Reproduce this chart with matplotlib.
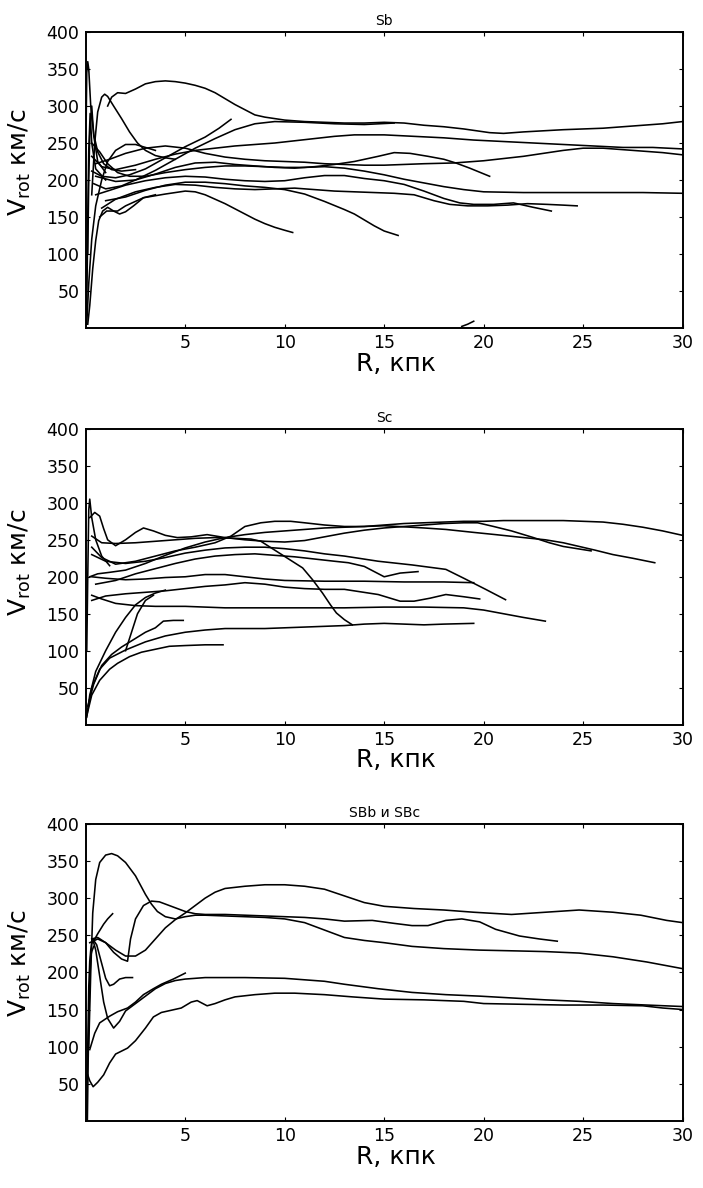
import numpy as np
import matplotlib
matplotlib.use("Agg")
import matplotlib.pyplot as plt

plt.rcParams['font.family'] = ['DejaVu Sans']
plt.rcParams['mathtext.fontset'] = 'dejavusans'

# ---- Sb rotation curves: (R kpc, V km/s) ----
sb_1 = [(1.1,300),(1.3,312),(1.6,318),(2.0,317),(2.5,323),(3.0,330),(3.5,333),(4.0,334),(4.5,333),(5.0,331),(5.5,328),(6.0,324),(6.5,318),(7.0,310),(7.5,302),(8.0,295),(8.5,288),(9.0,285),(10,281),(11,279),(12,278),(13,277),(14,277),(15,278),(16,277),(17,274),(18,272),(19,269),(20.3,264),(21,263),(22,265),(24,268),(26,270),(27,272),(28,274),(29,276),(30,279)]
sb_2 = [(0.3,212),(0.8,205),(1.5,203),(2.2,207),(3.0,215),(4.0,230),(5.0,245),(6.0,258),(6.7,270),(7.3,282)]
sb_3 = [(0.4,195),(1.0,188),(1.8,192),(2.5,200),(3.5,213),(4.5,228),(5.5,243),(6.5,256),(7.5,268),(8.5,276),(9.5,279),(11,278),(12.5,276),(14,275),(15.5,277)]
sb_4 = [(0.3,232),(0.8,218),(1.5,214),(2.5,220),(3.5,228),(4.5,235),(5.5,240),(6.5,243),(7.5,246),(8.5,248),(9.5,250),(10.5,253),(11.5,256),(12.5,259),(13.5,261),(15,261),(16.5,259),(18,257),(19.5,254),(21,252),(22.5,250),(24,248),(25.5,246),(27,244),(28.5,244),(30,242)]
sb_5 = [(0.5,222),(1.2,228),(2.0,236),(3.0,243),(4.0,246),(5.0,243),(6.0,236),(7.0,231),(8.0,228),(9.0,226),(10,225),(11,224),(12,222),(13,221),(14,220),(15,220),(16,221),(17,222),(18.5,223),(20,226),(21,229),(22,232),(23,236),(24,240),(25,243),(26,243),(27,241),(28,239),(29,237),(30,234)]
sb_6 = [(0.5,205),(1.5,198),(2.5,200),(3.5,208),(4.5,217),(5.5,223),(6.5,224),(7.5,221),(8.5,219),(9.5,217),(10.5,216),(11.5,218),(12.5,221),(13.5,225),(14.7,232),(15.5,237),(16.3,236),(17.2,232),(18,228),(18.6,223),(19.3,216),(20.3,205)]
sb_7 = [(0.3,250),(0.7,238),(1.1,222),(1.6,210),(2.2,205),(3.0,205),(4.0,210),(5.0,214),(6.0,217),(7.0,219),(8.0,219),(9.0,218),(10,217),(11,217),(12,218),(13,216),(14,212),(15,207),(16,201),(17,196),(18,191),(19,187),(20,184),(22,183),(24,183),(26,183),(28,183),(30,182)]
sb_8 = [(0.5,180),(1.2,186),(2.0,193),(3.0,199),(4.0,203),(5.0,205),(6.0,204),(7.0,201),(8.0,199),(9.0,198),(10,199),(11,203),(12,206),(13,206),(14,202),(15,199),(16,194),(17,185),(18,175),(18.8,169),(19.5,167),(20.5,167),(21.5,169),(22.5,163),(23.4,158)]
sb_9 = [(0.8,162),(1.5,174),(2.5,184),(3.5,190),(4.5,194),(5.5,193),(6.5,190),(7.5,188),(8.5,187),(9.5,188),(10.5,189),(11.5,187),(12.5,185),(13.5,184),(14.5,183),(15.5,182),(16.5,180),(17.5,172),(18.3,167),(19.2,165),(20.2,165),(21.2,166),(22.2,168),(23.2,167),(24.0,166),(24.7,165)]
sb_10 = [(1.0,172),(2.0,177),(3.0,186),(4.0,193),(5.0,197),(6.0,197),(7.0,195),(8.0,192),(9.0,190),(10,187),(11,181),(12,171),(13,160),(13.5,154),(14,146),(14.5,138),(15,131),(15.7,125)]
sb_11 = [(0.7,150),(1.05,158),(1.6,158),(2.0,165),(2.9,176),(4.0,181),(5.0,185),(5.5,184),(6.0,180),(6.5,174),(7.0,168),(7.5,161),(8.0,154),(8.5,147),(9.0,141),(9.5,136),(10,132),(10.4,129)]
sb_12 = [(0.05,5),(0.15,60),(0.3,120),(0.5,165),(0.8,200),(1.1,225),(1.5,240),(2.0,248),(2.5,248),(3.0,244),(3.5,240)]
sb_13 = [(0.02,280),(0.05,345),(0.1,360),(0.15,350),(0.25,300),(0.4,262),(0.6,238),(0.9,222),(1.3,214),(1.8,212),(2.5,214)]
sb_14 = [(0.3,180),(0.45,250),(0.6,292),(0.8,312),(0.95,316),(1.1,313),(1.4,300),(1.8,283),(2.2,265),(2.6,250),(3.0,240),(3.5,233),(4.0,230),(4.5,228)]
sb_15 = [(0.1,5),(0.2,30),(0.35,80),(0.5,118),(0.65,145),(0.85,158),(1.1,163),(1.4,158),(1.7,154),(2.0,157),(2.4,165),(2.9,176),(3.5,180)]
sb_16 = [(0.1,100),(0.15,200),(0.2,260),(0.3,300),(0.4,260),(0.6,225),(1.0,210)]
sb_17 = [(0.05,20),(0.1,150),(0.15,240),(0.22,290),(0.3,250),(0.5,215),(1.0,200)]
sb_18 = [(18.9,2),(19.2,5),(19.5,9)]

# ---- Sc rotation curves ----
sc_1 = [(0.2,200),(0.6,204),(1.2,206),(2.0,209),(3.0,218),(4.0,229),(5.0,239),(6.0,247),(7.0,253),(8.0,257),(9.0,260),(10,262),(11,264),(12,266),(13,267),(14,268),(15,270),(16,272),(17,273),(18,274),(19,275),(20,275),(21,276),(22,276),(23,276),(24,276),(25,275),(26,274),(27,271),(28,267),(29,262),(30,256)]
sc_2 = [(0.3,240),(0.8,226),(1.5,217),(2.5,221),(3.5,228),(4.5,235),(5.5,240),(6.5,246),(7.3,255),(8.0,268),(8.8,273),(9.5,275),(10.3,275),(11,273),(12,270),(13,268),(14,268),(15,269),(15.7,268),(17,266),(18.1,264),(19.5,260),(20.6,257),(22,253),(23.1,250),(24,246),(24.8,241),(25.6,236),(26.5,230),(27.5,225),(28.6,219)]
sc_3 = [(0.2,280),(0.45,287),(0.7,282),(0.9,265),(1.1,250),(1.5,242),(2.0,250),(2.5,260),(2.9,266),(3.4,262),(4.0,256),(4.6,253),(5.3,254),(6.1,257),(7.0,253),(8.0,250),(9.0,248),(10,247),(11,249),(12,254),(13,259),(14,263),(15,266),(16,268),(17,270),(18,272),(19,273),(19.7,273),(20.5,268),(21.4,262),(22.5,253),(23.3,246),(24,241),(24.7,238),(25.4,235)]
sc_4 = [(0.3,230),(1.0,221),(2.0,218),(3.0,221),(4.0,226),(5.0,232),(6.0,236),(7.0,239),(8.0,240),(9.0,240),(10,238),(11,235),(12,231),(13,228),(14.7,221),(16.4,216),(18.1,210),(19.0,198),(20.1,183),(21.1,169)]
sc_5 = [(0.5,190),(1.5,195),(2.5,204),(3.5,211),(4.5,218),(5.5,224),(6.5,228),(7.5,230),(8.5,231),(9.5,229),(10.5,227),(11.5,224),(12.5,221),(13.2,219),(14,214),(15,200),(15.8,205),(16.7,207)]
sc_6 = [(0.3,200),(1.0,198),(2.0,196),(3.0,197),(4.0,199),(5.0,200),(6.0,203),(7.0,203),(8.0,200),(9.0,197),(10,195),(12,194),(14,194),(16,193),(18,193),(19.5,192)]
sc_7 = [(0.3,168),(1.0,174),(2.0,177),(3.0,179),(4.0,181),(5.0,184),(6.0,187),(7.0,189),(8.0,192),(9.0,190),(10,186),(11,184),(12,183),(13,183),(14.7,176),(15.8,167),(16.5,167),(17.3,171),(18.1,176),(19,173),(19.8,170)]
sc_8 = [(0.3,175),(0.8,170),(1.5,164),(2.5,161),(3.5,160),(5.0,160),(7.0,158),(9.0,158),(11,158),(13,158),(15,159),(17,159),(19,158),(20,155),(21,150),(22,145),(23.1,140)]
sc_9 = [(0.1,20),(0.3,50),(0.7,75),(1.2,90),(2.0,101),(3.0,112),(4.0,120),(5.0,125),(6.0,128),(7.0,130),(8.0,130),(9.0,130),(10,131),(11,132),(12,133),(13,134),(14,136),(15,137),(16,136),(17,135),(18,136),(19.5,137)]
sc_10 = [(0.05,12),(0.3,40),(0.7,60),(1.2,75),(1.6,83),(2.2,92),(2.8,98),(3.5,102),(4.2,106),(5.0,107),(6.0,108),(6.9,108)]
sc_11 = [(0.1,25),(0.4,55),(0.8,80),(1.3,95),(1.8,105),(2.4,115),(3.0,125),(3.5,131),(3.9,140),(4.4,141),(4.9,141)]
sc_12 = [(0.3,255),(0.8,246),(1.5,245),(2.5,246),(3.5,248),(4.5,250),(5.5,252),(6.5,253),(7.5,252),(8.3,251),(8.8,248),(9.5,236),(10.2,224),(10.9,212),(11.4,196),(11.9,178),(12.3,162),(12.6,151),(13.0,142),(13.4,135)]
sc_13 = [(0.05,10),(0.2,40),(0.5,72),(1.0,100),(1.5,125),(2.0,145),(2.5,162),(3.0,172),(3.5,178),(4.0,182)]
sc_14 = [(0.05,100),(0.1,200),(0.15,290),(0.2,305),(0.3,280),(0.5,250),(0.8,228),(1.2,215)]
sc_15 = [(2.0,100),(2.3,125),(2.6,150),(3.0,168),(3.4,175)]

# ---- SBb and SBc rotation curves ----
sbb_1 = [(0.2,240),(0.6,245),(1.0,240),(1.5,230),(2.0,222),(2.5,222),(3.0,230),(3.5,245),(4.0,260),(4.5,271),(5.0,280),(5.5,290),(6.0,300),(6.5,308),(7.0,313),(8.0,316),(9.0,318),(10,318),(11,316),(12,312),(13,303),(14,294),(15,289),(16.5,286),(18,284),(19.5,281),(21.4,278),(23.1,281),(24.8,284),(26.5,281),(27.9,277),(29.2,270),(30,267)]
sbb_2 = [(0.15,100),(0.25,200),(0.35,280),(0.5,325),(0.7,348),(1.0,358),(1.3,360),(1.6,357),(2.0,348),(2.5,330),(3.0,305),(3.3,292),(3.6,282),(4.0,275),(4.5,272),(5.0,275),(5.5,277),(6.0,277),(7.0,276),(8.0,275),(9.0,274),(10,272),(11,267),(12,257),(13,247),(14,243),(15,240),(16.4,235),(18,232),(19.8,230),(21.5,229),(23.1,228),(24.8,226),(26.5,221),(28.2,214),(30,205)]
sbb_3 = [(0.3,245),(0.6,247),(1.0,240),(1.4,227),(1.8,218),(2.1,215),(2.25,245),(2.5,272),(2.9,290),(3.3,296),(3.7,295),(4.2,290),(5.0,282),(5.5,279),(6.0,278),(7.0,278),(8.0,277),(9.0,276),(10,275),(11,274),(12,272),(13,269),(14.4,270),(15.5,266),(16.4,263),(17.2,263),(18.1,270),(18.9,272),(19.8,268),(20.6,258),(21.8,249),(22.8,245),(23.7,242)]
sbb_4 = [(0.35,240),(0.6,252),(0.9,265),(1.1,272),(1.35,279)]
sbb_5 = [(0.35,245),(0.55,237),(0.8,212),(1.0,192),(1.2,182),(1.4,184),(1.7,191),(2.0,193),(2.35,193)]
sbb_6 = [(0.35,245),(0.5,230),(0.7,195),(0.9,160),(1.1,138),(1.4,125),(1.7,134),(2.0,148),(2.5,158),(3.0,168),(3.5,178),(4.0,185),(4.5,189),(5.0,191),(6.0,193),(8.0,193),(10,192),(12,188),(13,184),(14.7,178),(16.4,173),(18.1,170),(19.8,168),(23.1,163),(24.8,161),(26.5,158),(28.2,156),(30,154)]
sbb_7 = [(0.2,96),(0.45,118),(0.7,132),(1.2,141),(1.6,147),(2.1,152),(2.5,160),(2.9,170),(3.4,178),(3.8,184),(4.4,191),(5.0,199)]
sbb_8 = [(0.1,62),(0.2,54),(0.37,46),(0.6,52),(0.9,62),(1.2,78),(1.5,90),(1.8,94),(2.1,98),(2.5,108),(3.0,125),(3.4,140),(3.8,146),(4.3,149),(4.8,152),(5.3,160),(5.6,162),(6.1,155),(6.5,158),(7.0,163),(7.5,167),(8.5,170),(9.5,172),(10.5,172),(12,170),(13.4,167),(15,164),(17,163),(19,161),(20,158),(22,157),(24,156),(26,156),(28,155),(29,152),(30,150)]
sbb_9 = [(0.05,0),(0.1,100),(0.15,180),(0.2,215),(0.25,230),(0.3,240)]
sbb_10 = [(0.08,0),(0.12,80),(0.18,170),(0.25,222),(0.3,228),(0.4,235)]

panels = [
    ("Sb", [sb_1, sb_2, sb_3, sb_4, sb_5, sb_6, sb_7, sb_8, sb_9, sb_10, sb_11,
            sb_12, sb_13, sb_14, sb_15, sb_16, sb_17, sb_18]),
    ("Sc", [sc_1, sc_2, sc_3, sc_4, sc_5, sc_6, sc_7, sc_8, sc_9, sc_10, sc_11,
            sc_12, sc_13, sc_14, sc_15]),
    ("SBb и SBc", [sbb_1, sbb_2, sbb_3, sbb_4, sbb_5, sbb_6, sbb_7, sbb_8,
                   sbb_9, sbb_10]),
]
x_ticks = [5, 10, 15, 20, 25, 30]
y_ticks = [50, 100, 150, 200, 250, 300, 350, 400]

fig = plt.figure(figsize=(7.03, 11.88), dpi=100)
boxes = [[0.122, 0.724, 0.849, 0.249],
         [0.122, 0.390, 0.849, 0.249],
         [0.122, 0.0565, 0.849, 0.250]]
ylab_y = [0.56, 0.55, 0.53]

for box, yl, (title, curves) in zip(boxes, ylab_y, panels):
    ax = fig.add_axes(box)
    for c in curves:
        r, v = np.array(c, dtype=float).T
        ax.plot(r, v, color='black', lw=1.15, solid_joinstyle='round')
    ax.set_xlim(0, 30)
    ax.set_ylim(0, 400)
    ax.set_xticks(x_ticks)
    ax.set_yticks(y_ticks)
    ax.tick_params(direction='in', length=3, width=0.8, labelsize=12.5,
                   top=True, right=True, pad=4.5)
    for s in ax.spines.values():
        s.set_linewidth(1.4)
    ax.set_title(title, fontsize=10, pad=5)
    ax.set_xlabel('R, кпк', fontsize=18, labelpad=5)
    ax.xaxis.set_label_coords(0.52, -0.08)
    ax.set_ylabel(r'$\mathrm{V}_{\mathrm{rot}}$ км/с', fontsize=18)
    ax.yaxis.set_label_coords(-0.088, yl)

fig.savefig('out.png', dpi=100)
